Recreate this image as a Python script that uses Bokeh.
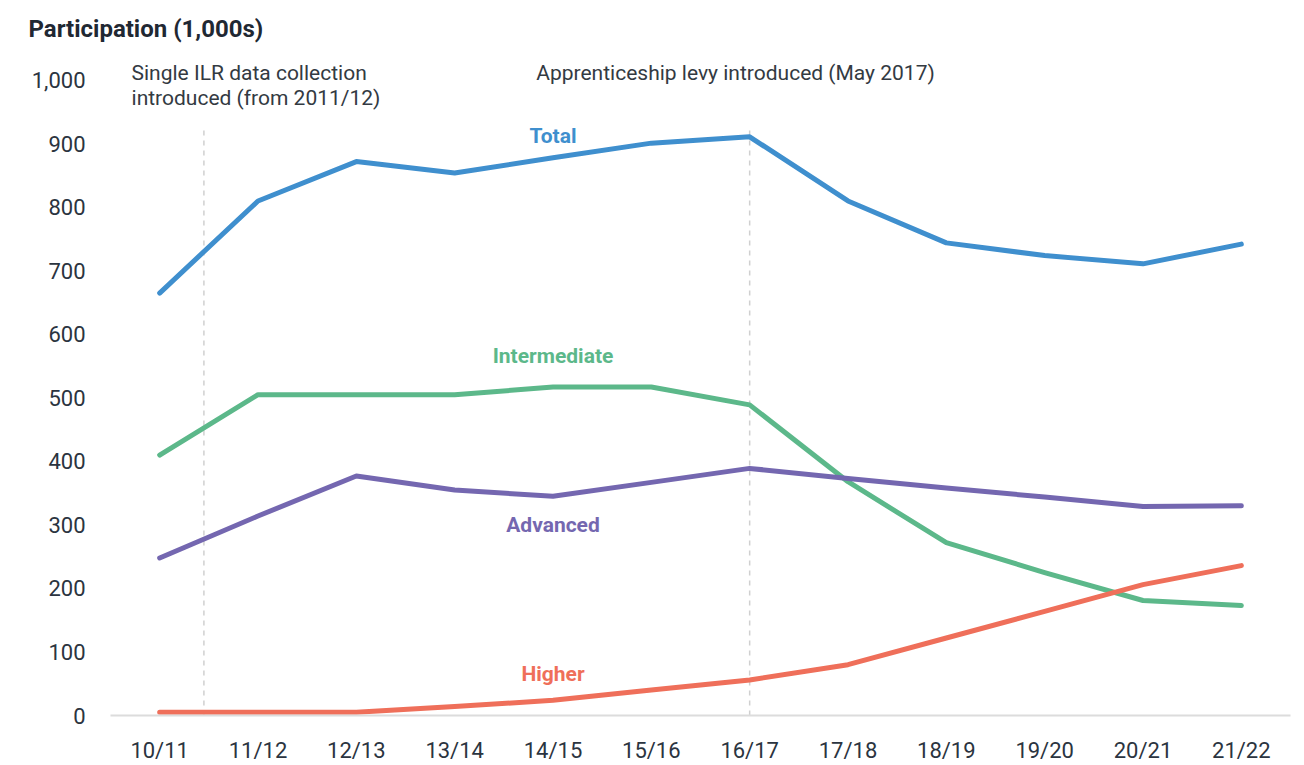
from bokeh.plotting import figure
from bokeh.models import Range1d, FixedTicker, NumeralTickFormatter, Label, ColumnDataSource
from bokeh.embed import file_html
from bokeh.resources import INLINE

years = ["10/11", "11/12", "12/13", "13/14", "14/15", "15/16", "16/17", "17/18", "18/19", "19/20", "20/21", "21/22"]
total = [665, 810, 872, 854, 878, 901, 911, 810, 744, 724, 711, 742]
intermediate = [410, 505, 505, 505, 517, 517, 489, 368, 272, 225, 181, 173]
advanced = [248, 314, 377, 355, 345, 367, 389, 373, 358, 344, 329, 330]
higher = [5, 5, 5, 14, 24, 40, 56, 80, 122, 164, 206, 236]

series = [
    ("Total", total, "#3f8fce", 912),
    ("Intermediate", intermediate, "#5cb88a", 566),
    ("Advanced", advanced, "#7467b0", 300),
    ("Higher", higher, "#ef6f5a", 66),
]

idx = list(range(len(years)))

FONT = "Roboto"
DARK = "#2b3440"

p = figure(width=1304, height=765, output_backend="svg", toolbar_location=None,
           x_range=Range1d(-0.5, len(years) - 0.5), y_range=Range1d(0, 1050),
           min_border_left=110, min_border_right=14, min_border_top=48, min_border_bottom=43)
p.outline_line_color = None
p.grid.visible = False
p.background_fill_color = "white"
p.border_fill_color = "white"

p.title.text = "Participation (1,000s)"
p.title.align = "left"
p.title.offset = -82
p.title.standoff = 12
p.title.text_font = FONT
p.title.text_font_style = "bold"
p.title.text_font_size = "24px"
p.title.text_color = "#1f2833"

# axes
p.xaxis.ticker = FixedTicker(ticks=idx)
p.xaxis.major_label_overrides = {i: y for i, y in enumerate(years)}
p.xaxis.axis_line_color = "#dcdcdc"
p.xaxis.axis_line_width = 2
p.xaxis.major_tick_line_color = None
p.xaxis.minor_tick_line_color = None
p.xaxis.major_label_standoff = 16
p.xaxis.major_label_text_font = FONT
p.xaxis.major_label_text_font_size = "22px"
p.xaxis.major_label_text_color = DARK

p.yaxis.ticker = FixedTicker(ticks=list(range(0, 1001, 100)))
p.yaxis.formatter = NumeralTickFormatter(format="0,0")
p.yaxis.axis_line_color = None
p.yaxis.major_tick_line_color = None
p.yaxis.minor_tick_line_color = None
p.yaxis.major_label_standoff = 19
p.yaxis.major_label_text_font = FONT
p.yaxis.major_label_text_font_size = "22px"
p.yaxis.major_label_text_color = DARK

# reference lines
p.segment(x0=[0.45, 6], y0=[0, 0], x1=[0.45, 6], y1=[925, 925],
          line_color="#d0d0d0", line_width=1.5, line_dash="5 5")

for name, vals, color, ly in series:
    src = ColumnDataSource(dict(x=idx, y=vals))
    p.line("x", "y", source=src, line_color=color, line_width=5, line_cap="round", line_join="round")
    p.add_layout(Label(x=4, y=ly, text=name, text_align="center", text_baseline="middle",
                       text_font=FONT, text_font_style="bold", text_font_size="21px",
                       text_color=color))

# annotations
p.add_layout(Label(x=-0.286, y=1011, text="Single ILR data collection", text_align="left",
                   text_baseline="middle", text_font=FONT, text_font_size="21px", text_color="#333a42"))
p.add_layout(Label(x=-0.286, y=972, text="introduced (from 2011/12)", text_align="left",
                   text_baseline="middle", text_font=FONT, text_font_size="21px", text_color="#333a42"))
p.add_layout(Label(x=3.83, y=1011, text="Apprenticeship levy introduced (May 2017)", text_align="left",
                   text_baseline="middle", text_font=FONT, text_font_size="21px", text_color="#333a42"))

open("out.html", "w").write(file_html(p, INLINE))
